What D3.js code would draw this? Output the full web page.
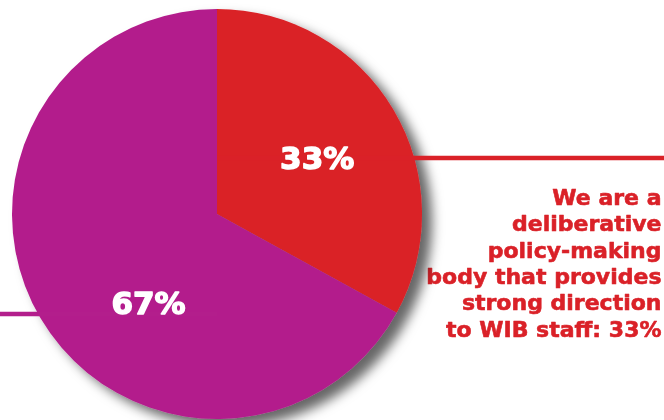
<!DOCTYPE html>
<html lang="en">
<head>
	<meta charset="utf-8">
	<script src="https://d3js.org/d3.v7.min.js"></script>
	<style>
		html, body { margin: 0; padding: 0; background: #fff; }
		svg { display: block; }
	</style>
</head>
<body>
<script>
	// slice data (clockwise from 12 o'clock)
	var labels = ["Deliberative body", "Other"];
	var values = [33, 67];
	var colors = ["#da2128", "#b31e8c"];
	// where the % label sits inside each slice (fraction of the slice's angle)
	var labelFrac = [0.51, 0.41];
	var calloutLines = [
		"We are a",
		"deliberative",
		"policy-making",
		"body that provides",
		"strong direction",
		"to WIB staff: 33%"
	];

	var width = 664, height = 420;
	var cx = 217, cy = 214, radius = 205;

	var svg = d3.select("body").append("svg")
		.attr("width", width)
		.attr("height", height);

	var defs = svg.append("defs");
	var f = defs.append("filter")
		.attr("id", "shadow")
		.attr("x", "-20%").attr("y", "-20%")
		.attr("width", "140%").attr("height", "140%");
	f.append("feDropShadow")
		.attr("dx", 10).attr("dy", 8)
		.attr("stdDeviation", 6)
		.attr("flood-color", "#000")
		.attr("flood-opacity", 0.6);

	var g = svg.append("g")
		.attr("transform", "translate(" + cx + "," + cy + ")");

	var pie = d3.pie().sort(null).value(function (d) { return d; });
	var arcs = pie(values);
	var arc = d3.arc().innerRadius(0).outerRadius(radius);

	g.append("g")
		.attr("filter", "url(#shadow)")
		.selectAll("path")
		.data(arcs)
		.enter()
		.append("path")
		.attr("d", arc)
		.attr("fill", function (d, i) { return colors[i]; });

	// leader lines
	g.append("line")
		.attr("x1", 0).attr("x2", width - cx)
		.attr("y1", -56).attr("y2", -56)
		.attr("stroke", colors[0])
		.attr("stroke-width", 4.5);
	g.append("line")
		.attr("x1", -cx).attr("x2", 0)
		.attr("y1", 100).attr("y2", 100)
		.attr("stroke", colors[1])
		.attr("stroke-width", 4.5);

	// percentage labels
	var labelR = [115, 112];
	g.selectAll(".pct")
		.data(arcs)
		.enter()
		.append("text")
		.attr("class", "pct")
		.attr("transform", function (d, i) {
			var a = d.startAngle + (d.endAngle - d.startAngle) * labelFrac[i];
			var p = d3.pointRadial(a, labelR[i]);
			return "translate(" + p[0] + "," + (p[1] + 11) + ")";
		})
		.attr("text-anchor", "middle")
		.style("font-family", "'DejaVu Sans'")
		.style("font-weight", "bold")
		.style("font-size", "31px")
		.style("fill", "#fff")
		.style("stroke", "#fff")
		.style("stroke-width", 1.4)
		.style("stroke-linejoin", "round")
		.text(function (d) { return d.value + "%"; });

	// callout text
	var callout = svg.append("text")
		.attr("text-anchor", "end")
		.style("font-family", "'DejaVu Sans'")
		.style("font-weight", "bold")
		.style("font-size", "22px")
		.style("fill", colors[0])
		.style("stroke", colors[0])
		.style("stroke-width", 0.6)
		.style("stroke-linejoin", "round")
		.style("mix-blend-mode", "multiply");
	callout.selectAll("tspan")
		.data(calloutLines)
		.enter()
		.append("tspan")
		.attr("x", 661.5)
		.attr("y", function (d, i) { return 205 + i * 26.3; })
		.text(function (d) { return d; });
</script>
</body>
</html>
